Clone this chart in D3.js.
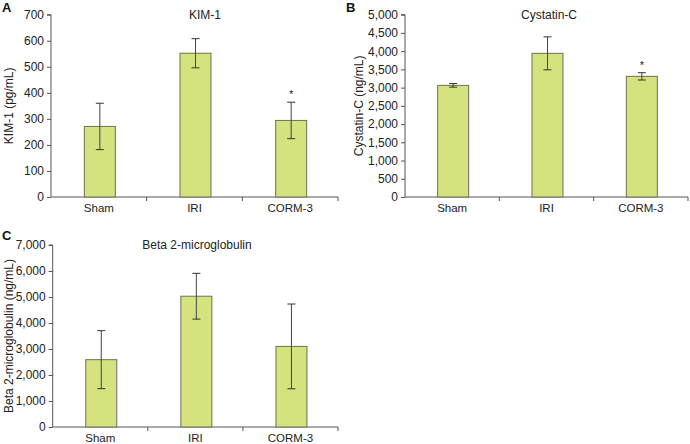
<!DOCTYPE html>
<html><head><meta charset="utf-8">
<script src="https://cdn.jsdelivr.net/npm/d3@7"></script>
<style>body{margin:0;background:#fff}svg{display:block;font-family:"Liberation Sans",Arial,sans-serif}</style>
</head><body><svg id="c" width="690" height="444"></svg>
<script>
const categories = ["Sham","IRI","CORM-3"];
const kimValues = [271, 552, 294];
const kimErrors = [89, 56, 70];
const kimTicks = [0,100,200,300,400,500,600,700];
const cysValues = [3062, 3940, 3309];
const cysErrors = [50, 452, 100];
const cysTicks = [0,500,1000,1500,2000,2500,3000,3500,4000,4500,5000];
const b2mValues = [2590, 5030, 3100];
const b2mErrors = [1115, 880, 1630];
const b2mTicks = [0,1000,2000,3000,4000,5000,6000,7000];
const kimSig = [false, false, true];
const cysSig = [false, false, true];
const b2mSig = [false, false, false];

const svg = d3.select("#c");
const fmt = d3.format(",");

function panel(o){
  const g = svg.append("g");
  const x = d3.scaleBand().domain(categories).range([o.x0, o.x1]).paddingInner(0).paddingOuter(0);
  const y = d3.scaleLinear().domain([0, o.max]).range([o.y0, o.y1]);
  // y axis
  const ya = g.append("g").attr("transform",`translate(${o.x0},0)`)
    .call(d3.axisLeft(y).tickValues(o.ticks).tickFormat(o.max>=1000?fmt:d3.format("d")).tickSize(4).tickPadding(3));
  ya.select(".domain").attr("stroke","#555").attr("d",`M-4,${o.y1}H0V${o.y0}`);
  ya.selectAll(".tick line").attr("stroke","#555");
  ya.selectAll(".tick text").attr("fill","#222").style("font-size","12px").style("font-family","Liberation Sans, Arial, sans-serif");
  // x axis
  const xa = g.append("g").attr("transform",`translate(0,${o.y0})`)
    .call(d3.axisBottom(x).tickSize(0).tickPadding(7));
  xa.select(".domain").attr("stroke","#555").attr("d",`M${o.x0},0H${o.x1}`);
  xa.selectAll(".tick text").attr("fill","#222").style("font-size","11.5px").style("font-family","Liberation Sans, Arial, sans-serif");
  // band boundary ticks
  g.selectAll(".bt").data(categories).enter().append("line")
    .attr("x1",d=>x(d)+x.bandwidth()).attr("x2",d=>x(d)+x.bandwidth())
    .attr("y1",o.y0).attr("y2",o.y0+4).attr("stroke","#555");
  const bw = 31;
  const bars = g.selectAll(".bar").data(o.values).enter().append("rect")
    .attr("x",(d,i)=>x(categories[i])+x.bandwidth()/2-bw/2+1)
    .attr("width",bw)
    .attr("y",d=>y(d)).attr("height",d=>o.y0-y(d))
    .attr("fill","#d6e27e").attr("stroke","#6f6f55").attr("stroke-width",1);
  const cx = i => x(categories[i])+x.bandwidth()/2+1;
  o.values.forEach((v,i)=>{
    const e=o.errors[i];
    g.append("line").attr("x1",cx(i)).attr("x2",cx(i)).attr("y1",y(v+e)).attr("y2",y(v-e)).attr("stroke","#444").attr("stroke-width",1);
    [v+e, v-e].forEach(t=>g.append("line").attr("x1",cx(i)-4).attr("x2",cx(i)+4).attr("y1",y(t)).attr("y2",y(t)).attr("stroke","#333").attr("stroke-width",1));
    if(o.sig[i]) g.append("text").attr("x",cx(i)).attr("y",y(v+e)-4).attr("text-anchor","middle").attr("fill","#222").style("font-size","11px").text("*");
  });
  g.append("text").attr("x",o.tx).attr("y",o.ty).attr("text-anchor","middle").attr("fill","#222").style("font-size","12px").text(o.title);
  g.append("text").attr("transform",`translate(${o.lx},${(o.y0+o.y1)/2}) rotate(-90)`).attr("text-anchor","middle").attr("dy","0.35em").attr("fill","#222").style("font-size","12px").text(o.ylab);
  g.append("text").attr("x",o.px).attr("y",o.py).attr("fill","#111").style("font-size","13px").style("font-weight","bold").text(o.letter);
}

panel({x0:51,x1:338,y0:197,y1:14.7,max:700,ticks:kimTicks,values:kimValues,errors:kimErrors,sig:kimSig,
  title:"KIM-1",tx:205,ty:19,ylab:"KIM-1 (pg/mL)",lx:9,letter:"A",px:2,py:12});
panel({x0:405,x1:688,y0:197,y1:14.7,max:5000,ticks:cysTicks,values:cysValues,errors:cysErrors,sig:cysSig,
  title:"Cystatin-C",tx:549,ty:19,ylab:"Cystatin-C (ng/mL)",lx:359,letter:"B",px:346,py:12});
panel({x0:52.7,x1:338,y0:427,y1:245,max:7000,ticks:b2mTicks,values:b2mValues,errors:b2mErrors,sig:b2mSig,
  title:"Beta 2-microglobulin",tx:197,ty:249,ylab:"Beta 2-microglobulin (ng/mL)",lx:9,letter:"C",px:2,py:240});
</script></body></html>
